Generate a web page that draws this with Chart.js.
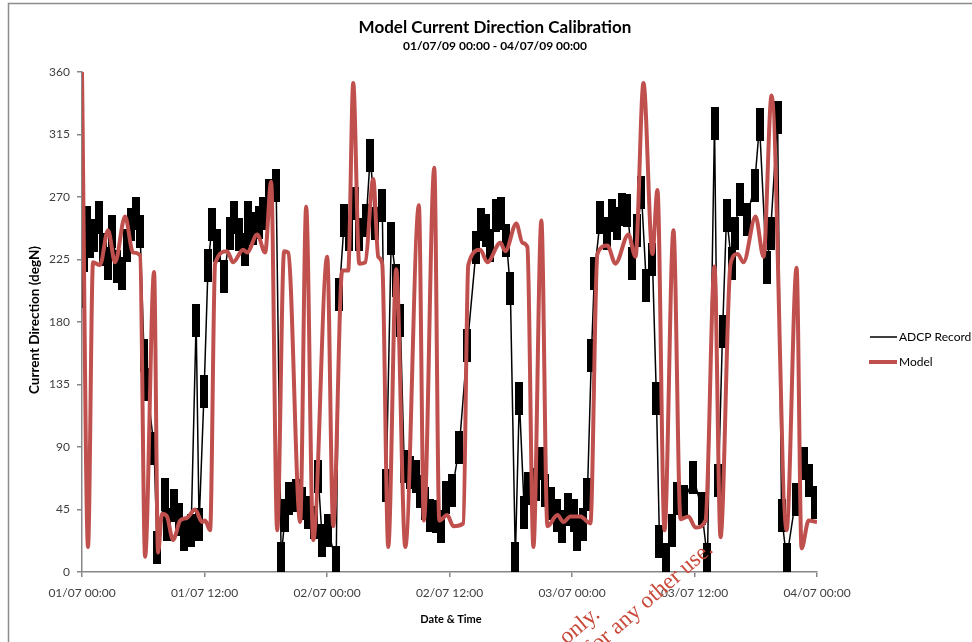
<!DOCTYPE html>
<html>
<head>
<meta charset="utf-8">
<script src="https://cdn.jsdelivr.net/npm/chart.js@4.4.1/dist/chart.umd.min.js"></script>
<style>
  html, body { margin: 0; padding: 0; background: #fff; }
  #wrap { width: 972px; height: 642px; }
</style>
</head>
<body>
<div id="wrap"><canvas id="dir-chart" width="972" height="642"></canvas></div>
<script>
// x values are hours since 01/07/09 00:00
var xTickLabels = ['01/07 00:00', '01/07 12:00', '02/07 00:00', '02/07 12:00',
                   '03/07 00:00', '03/07 12:00', '04/07 00:00'];
var yTicks = [0, 45, 90, 135, 180, 225, 270, 315, 360];

var adcpHours = [0.00, 0.20, 0.49, 0.78, 1.18, 1.67, 2.06, 2.55, 2.94, 3.43, 3.92, 4.41, 4.80, 5.29, 5.69,
  6.08, 6.37, 7.06, 7.35, 8.14, 8.33, 9.02, 9.51, 10.00, 10.69, 11.18, 11.47, 11.96,
  12.35, 12.75, 13.24, 13.92, 14.51, 14.90, 15.39, 15.98, 16.27, 16.76, 17.35, 17.75, 18.33, 19.02,
  19.51, 19.90, 20.29, 20.98, 21.57, 22.16, 22.75, 23.14, 23.53, 24.12, 24.90,
  25.20, 25.69, 26.18, 26.76, 27.16, 27.84, 28.24, 28.73, 29.41, 29.80, 30.29, 30.78, 31.18,
  31.57, 32.16, 32.75, 33.14, 33.63, 34.12, 34.71, 35.20, 35.69, 36.27, 36.96, 37.75,
  38.63, 39.12, 39.61, 40.00, 40.59, 41.08, 41.57, 41.96, 42.45, 42.84,
  43.33, 43.73, 44.51, 44.90, 45.39, 45.98, 46.57, 47.06, 47.65, 48.24, 48.53, 49.12, 49.51, 49.90,
  50.20, 50.78, 51.47, 51.96, 52.45, 52.94, 53.43, 53.92, 54.41, 54.80, 55.29, 55.88, 56.27,
  56.57, 57.25, 57.84, 58.24, 59.02, 59.90, 60.69, 61.27, 61.96, 62.35, 62.75,
  63.14, 63.63, 63.92, 64.41, 65.10, 65.88, 66.37, 67.06, 67.45, 68.14,
  68.53, 69.02, 69.90, 70.69, 71.18, 71.76];
var adcpDir = [202, 228, 252, 238, 242, 255, 232, 222, 245, 220, 215, 235, 250, 258, 245,
  156, 135, 89, 18, 56, 34, 48, 38, 27, 30, 181, 34, 130,
  221, 250, 235, 213, 244, 255, 243, 232, 255, 247, 252, 258, 271, 278,
  10, 41, 53, 55, 49, 43, 36, 69, 23, 30, 7,
  200, 253, 243, 265, 243, 253, 300, 251, 264, 62, 240, 210, 181,
  76, 72, 69, 58, 49, 41, 40, 33, 54, 59, 90, 163,
  234, 250, 246, 235, 257, 258, 239, 204, 10, 125,
  43, 60, 63, 78, 59, 49, 41, 33, 45, 41, 27, 34, 56, 156,
  215, 255, 244, 257, 251, 261, 260, 222, 246, 273, 206, 225, 125,
  22, 9, 30, 53, 51, 68, 46, 9, 323, 66, 173,
  257, 222, 244, 268, 254, 278, 322, 219, 244, 327,
  41, 9, 52, 78, 66, 50];

var modelHours = [0.00, 0.59, 1.08, 1.76, 2.55, 3.24, 4.22, 5.00, 5.69, 6.18, 7.06, 7.45, 7.84, 8.33,
  8.92, 9.61, 10.29, 11.08, 11.76, 12.06, 12.55, 13.04, 14.22, 14.80, 15.78, 16.18, 17.16, 17.94,
  18.53, 19.12, 19.80, 20.20, 21.37, 21.96, 22.65, 24.02, 24.61, 25.49, 26.08, 26.57, 27.16, 27.75,
  28.53, 29.02, 29.41, 30.00, 30.78, 31.67, 33.00, 33.49, 34.51, 35.00, 35.78, 36.37, 37.35, 37.84,
  39.02, 39.71, 40.98, 41.47, 42.55, 43.14, 43.63, 44.22, 45.00, 45.59, 46.57, 47.16, 47.84, 48.82,
  49.80, 50.49, 51.47, 52.25, 53.53, 54.22, 55.00, 55.88, 56.37, 57.06, 57.94, 58.63, 59.41, 60.10,
  61.08, 61.96, 62.55, 63.53, 64.22, 64.80, 65.98, 66.76, 67.55, 69.02, 70.00, 70.49, 71.18, 72.00];
var modelDir = [360, 18, 223, 221, 246, 223, 256, 230, 228, 11, 216, 14, 42, 40,
  23, 37, 39, 45, 36, 37, 30, 222, 231, 223, 232, 230, 243, 230,
  281, 30, 231, 230, 36, 263, 23, 227, 33, 217, 217, 352, 222, 223,
  283, 227, 222, 18, 218, 18, 264, 37, 291, 37, 41, 33, 35, 221,
  232, 223, 237, 231, 251, 237, 234, 18, 253, 33, 41, 36, 40, 40,
  35, 229, 235, 222, 243, 227, 352, 229, 275, 30, 246, 38, 40, 32,
  37, 220, 25, 222, 229, 223, 256, 227, 343, 30, 219, 17, 37, 36];

var FONT = 'Lato, "Open Sans", sans-serif';
var AXIS_GREY = '#878787';
var MODEL_RED = '#c0504d';

function toPoints(xs, ys) {
  return xs.map(function (x, i) { return { x: x, y: ys[i] }; });
}

// tall black block used as the ADCP marker
function blockMarker(w, h) {
  var c = document.createElement('canvas');
  c.width = w;
  c.height = h;
  var g = c.getContext('2d');
  g.fillStyle = '#000';
  g.fillRect(0, 0, w, h);
  return c;
}

var decorations = {
  id: 'decorations',
  beforeDraw: function (chart) {
    var ctx = chart.ctx;
    ctx.save();
    ctx.fillStyle = '#fff';
    ctx.fillRect(0, 0, chart.width, chart.height);
    ctx.strokeStyle = '#8c8c8c';
    ctx.lineWidth = 1.5;
    ctx.beginPath();
    ctx.moveTo(8.5, chart.height);
    ctx.lineTo(8.5, 3.5);
    ctx.lineTo(chart.width, 3.5);
    ctx.stroke();
    ctx.restore();
  },
  afterDraw: function (chart) {
    var ctx = chart.ctx;
    var area = chart.chartArea;
    ctx.save();
    ctx.fillStyle = '#000';
    ctx.textAlign = 'center';
    ctx.textBaseline = 'middle';
    ctx.font = 'bold 17px ' + FONT;
    ctx.fillText('Model Current Direction Calibration', 495, 28);
    ctx.font = 'bold 12px ' + FONT;
    ctx.fillText('01/07/09 00:00 - 04/07/09 00:00', 495, 46);

    ctx.font = 'bold 11px ' + FONT;
    ctx.fillText('Date & Time', 451, 619);
    ctx.save();
    ctx.translate(35, (area.top + area.bottom) / 2 - 2);
    ctx.rotate(-Math.PI / 2);
    ctx.font = 'bold 13.5px ' + FONT;
    ctx.fillText('Current Direction (degN)', 0, 0);
    ctx.restore();

    // legend
    ctx.textAlign = 'left';
    ctx.font = '12px ' + FONT;
    ctx.strokeStyle = '#000';
    ctx.lineWidth = 1.5;
    ctx.beginPath();
    ctx.moveTo(870, 337);
    ctx.lineTo(897, 337);
    ctx.stroke();
    ctx.fillText('ADCP Record', 899, 337);
    ctx.strokeStyle = MODEL_RED;
    ctx.lineWidth = 4;
    ctx.beginPath();
    ctx.moveTo(869, 362);
    ctx.lineTo(897, 362);
    ctx.stroke();
    ctx.fillText('Model', 899, 362);

    // watermark, runs off the bottom edge
    ctx.fillStyle = '#c9483a';
    ctx.font = '23px "Liberation Serif", serif';
    ctx.textAlign = 'right';
    ctx.textBaseline = 'alphabetic';
    ctx.save();
    ctx.translate(601, 616);
    ctx.rotate(-40 * Math.PI / 180);
    ctx.fillText('For reference only.', 0, 0);
    ctx.restore();
    ctx.save();
    ctx.translate(714, 551);
    ctx.rotate(-41 * Math.PI / 180);
    ctx.fillText('Not for any other use.', 0, 0);
    ctx.restore();
    ctx.restore();
  }
};

function initChart() {
  var ctx = document.getElementById('dir-chart');
  return new Chart(ctx, {
    type: 'line',
    data: {
      datasets: [{
        label: 'Model',
        data: toPoints(modelHours, modelDir),
        borderColor: MODEL_RED,
        borderWidth: 4,
        pointRadius: 0,
        cubicInterpolationMode: 'monotone',
        order: 0
      }, {
        label: 'ADCP Record',
        data: toPoints(adcpHours, adcpDir),
        borderColor: '#000',
        backgroundColor: '#000',
        borderWidth: 1.5,
        tension: 0,
        pointStyle: blockMarker(8, 33),
        pointRadius: 4,
        order: 1
      }]
    },
    options: {
      responsive: false,
      animation: false,
      layout: { padding: { top: 72, right: 155, bottom: 0, left: 0 } },
      plugins: { legend: { display: false }, title: { display: false }, tooltip: { enabled: false } },
      scales: {
        x: {
          type: 'linear',
          min: 0,
          max: 72,
          afterFit: function (s) { s.height = 70; },
          afterBuildTicks: function (s) {
            s.ticks = xTickLabels.map(function (_, i) { return { value: i * 12 }; });
          },
          ticks: {
            autoSkip: false,
            maxRotation: 0,
            padding: 9,
            color: '#404040',
            font: { family: FONT, size: 12 },
            callback: function (v) { return xTickLabels[Math.round(v / 12)]; }
          },
          grid: { drawOnChartArea: false, drawTicks: true, tickLength: 5, color: AXIS_GREY, lineWidth: 1.5 },
          border: { color: AXIS_GREY, width: 1.5 }
        },
        y: {
          min: 0,
          max: 360,
          afterFit: function (s) { s.width = 82; },
          afterBuildTicks: function (s) {
            s.ticks = yTicks.map(function (v) { return { value: v }; });
          },
          ticks: {
            padding: 7,
            color: '#404040',
            font: { family: FONT, size: 12 }
          },
          grid: { drawOnChartArea: false, drawTicks: true, tickLength: 5, color: AXIS_GREY, lineWidth: 1.5 },
          border: { color: AXIS_GREY, width: 1.5 }
        }
      }
    },
    plugins: [decorations]
  });
}

initChart();
</script>
</body>
</html>
